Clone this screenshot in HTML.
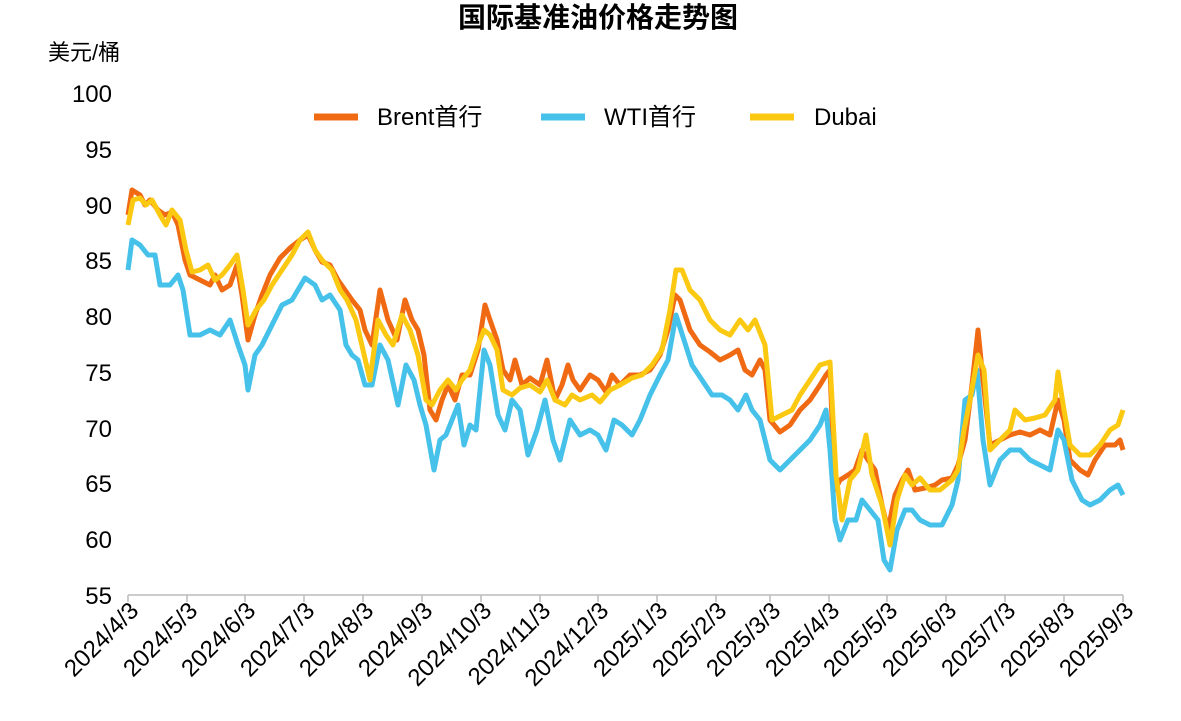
<!DOCTYPE html>
<html><head><meta charset="utf-8"><style>
body{margin:0;background:#fff;width:1181px;height:716px;overflow:hidden}
svg text{font-family:"Liberation Sans","Noto Sans CJK SC",sans-serif;fill:#000}
</style></head><body>
<svg width="1181" height="716" viewBox="0 0 1181 716">
<text x="598" y="27" font-size="28" font-weight="bold" text-anchor="middle">国际基准油价格走势图</text>
<text x="48" y="60" font-size="22">美元/桶</text>
<g font-size="24" text-anchor="end">
<text x="112" y="102">100</text><text x="112" y="158">95</text><text x="112" y="214">90</text><text x="112" y="269">85</text><text x="112" y="325">80</text><text x="112" y="381">75</text><text x="112" y="437">70</text><text x="112" y="492">65</text><text x="112" y="548">60</text><text x="112" y="604">55</text>
</g>
<g font-size="24">
<line x1="314" y1="117" x2="358" y2="117" stroke="#f06a14" stroke-width="7"/><text x="377" y="125">Brent首行</text>
<line x1="541" y1="117" x2="585" y2="117" stroke="#45c1ea" stroke-width="7"/><text x="604" y="125">WTI首行</text>
<line x1="750" y1="117" x2="794" y2="117" stroke="#fbc912" stroke-width="7"/><text x="814" y="125">Dubai</text>
</g>
<line x1="128" y1="595" x2="1123" y2="595" stroke="#bbb" stroke-width="1.5"/>
<g stroke="#bbb" stroke-width="1.5">
<line x1="128" y1="595" x2="128" y2="602"/><line x1="187" y1="595" x2="187" y2="602"/><line x1="245" y1="595" x2="245" y2="602"/><line x1="304" y1="595" x2="304" y2="602"/><line x1="363" y1="595" x2="363" y2="602"/><line x1="422" y1="595" x2="422" y2="602"/><line x1="481" y1="595" x2="481" y2="602"/><line x1="540" y1="595" x2="540" y2="602"/><line x1="598" y1="595" x2="598" y2="602"/><line x1="657" y1="595" x2="657" y2="602"/><line x1="716" y1="595" x2="716" y2="602"/><line x1="770" y1="595" x2="770" y2="602"/><line x1="829" y1="595" x2="829" y2="602"/><line x1="887" y1="595" x2="887" y2="602"/><line x1="946" y1="595" x2="946" y2="602"/><line x1="1005" y1="595" x2="1005" y2="602"/><line x1="1064" y1="595" x2="1064" y2="602"/><line x1="1123" y1="595" x2="1123" y2="602"/>
</g>
<g font-size="24" text-anchor="end">
<text transform="translate(140,612) rotate(-45)">2024/4/3</text>
<text transform="translate(199,612) rotate(-45)">2024/5/3</text>
<text transform="translate(257,612) rotate(-45)">2024/6/3</text>
<text transform="translate(316,612) rotate(-45)">2024/7/3</text>
<text transform="translate(375,612) rotate(-45)">2024/8/3</text>
<text transform="translate(434,612) rotate(-45)">2024/9/3</text>
<text transform="translate(493,612) rotate(-45)">2024/10/3</text>
<text transform="translate(552,612) rotate(-45)">2024/11/3</text>
<text transform="translate(610,612) rotate(-45)">2024/12/3</text>
<text transform="translate(669,612) rotate(-45)">2025/1/3</text>
<text transform="translate(728,612) rotate(-45)">2025/2/3</text>
<text transform="translate(782,612) rotate(-45)">2025/3/3</text>
<text transform="translate(841,612) rotate(-45)">2025/4/3</text>
<text transform="translate(899,612) rotate(-45)">2025/5/3</text>
<text transform="translate(958,612) rotate(-45)">2025/6/3</text>
<text transform="translate(1017,612) rotate(-45)">2025/7/3</text>
<text transform="translate(1076,612) rotate(-45)">2025/8/3</text>
<text transform="translate(1135,612) rotate(-45)">2025/9/3</text>
</g>
<g fill="none" stroke-width="5" stroke-linejoin="round">
<polyline stroke="#f06a14" points="128,215 132,190 140,195 145,205 150,200 158,210 165,215 172,212 178,225 185,260 190,275 200,280 210,285 215,275 222,290 230,285 237,265 242,295 248,340 255,315 262,295 270,275 280,258 290,248 300,240 308,235 315,250 322,262 330,265 338,280 345,290 352,300 360,310 365,330 372,345 380,290 388,320 397,340 405,300 412,320 418,330 424,355 430,410 436,420 442,400 448,385 455,400 462,375 470,375 478,350 485,305 490,320 497,340 503,370 510,380 515,360 522,385 530,378 540,385 547,360 555,400 562,385 568,365 573,380 580,390 590,375 598,380 606,392 612,375 620,385 630,375 640,375 650,370 660,355 668,330 675,295 680,300 690,330 700,345 710,352 720,360 730,355 738,350 745,370 752,375 760,360 765,370 770,420 780,432 790,425 800,410 810,400 820,385 826,375 830,370 835,490 840,480 848,475 855,470 862,450 868,460 875,470 882,505 888,530 895,495 902,480 908,470 915,490 925,488 935,485 942,480 952,478 958,465 965,440 972,385 978,330 983,380 990,445 1000,440 1010,435 1020,432 1030,435 1040,430 1050,435 1058,400 1064,420 1070,460 1080,470 1088,475 1095,460 1105,445 1115,445 1120,440 1123,450"/>
<polyline stroke="#45c1ea" points="128,270 132,240 140,245 148,255 155,255 160,285 170,285 178,275 183,290 190,335 200,335 210,330 220,335 230,320 238,345 245,365 248,390 255,355 262,345 272,325 282,305 292,300 305,278 315,285 322,300 330,295 340,310 346,345 352,355 358,360 365,385 372,385 380,345 388,360 398,405 406,365 414,380 420,405 426,425 434,470 440,440 446,435 452,420 458,405 464,445 470,425 476,430 484,350 490,365 498,415 505,430 512,400 520,410 528,455 537,430 545,400 553,440 560,460 570,420 580,435 590,430 598,435 606,450 614,420 622,425 632,435 640,420 650,395 660,375 668,360 676,315 684,340 692,365 702,380 712,395 722,395 730,400 738,410 746,395 752,410 760,420 770,460 780,470 790,460 800,450 810,440 820,425 826,410 830,450 835,520 840,540 848,520 856,520 862,500 870,510 878,520 884,560 890,570 897,530 905,510 912,510 920,520 930,525 942,525 952,505 958,480 965,400 972,395 977,370 983,440 990,485 1000,460 1010,450 1020,450 1030,460 1040,465 1050,470 1058,430 1064,440 1072,480 1082,500 1090,505 1100,500 1110,490 1118,485 1123,495"/>
<polyline stroke="#fbc912" points="128,225 133,200 140,198 146,205 152,200 160,215 166,225 172,210 180,220 186,250 192,272 200,270 208,265 215,280 222,275 230,265 237,255 243,290 248,325 256,310 264,300 272,285 282,270 292,255 300,240 308,232 315,250 322,260 332,270 340,290 347,300 356,320 363,350 370,380 378,320 386,335 393,345 402,315 410,330 418,355 426,400 432,405 440,390 448,380 456,390 462,380 470,370 478,345 484,330 490,335 497,350 503,390 512,395 520,388 530,385 540,392 547,380 555,400 565,405 572,395 580,400 592,395 600,402 610,390 620,385 632,378 642,375 652,365 662,350 670,310 676,270 682,270 690,290 700,300 710,320 720,330 730,335 740,320 748,330 755,320 765,345 772,420 782,415 792,410 800,395 810,380 820,365 830,362 836,475 842,520 850,480 858,470 866,435 872,475 882,505 890,545 897,500 905,475 912,485 920,478 930,490 940,490 952,480 958,470 964,430 970,400 978,355 984,370 990,450 1000,440 1010,430 1015,410 1025,420 1035,418 1045,415 1055,400 1058,372 1064,410 1070,445 1080,455 1090,455 1100,445 1110,430 1118,425 1123,410"/>
</g>
</svg>
</body></html>
